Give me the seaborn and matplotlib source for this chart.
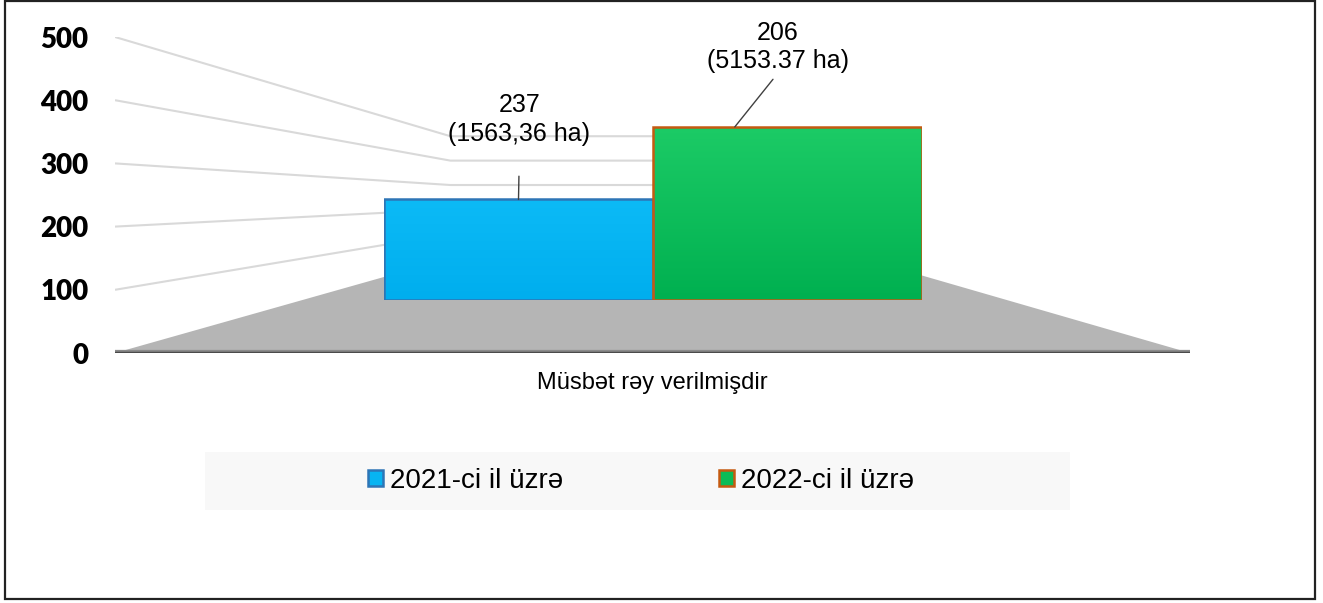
import numpy as np
import pandas as pd
import seaborn as sns
import matplotlib.pyplot as plt
from matplotlib.colors import LinearSegmentedColormap
from matplotlib.patches import Rectangle, Polygon

W, H = 1323, 603

category = "Müsbət rəy verilmişdir"
years = ["2021-ci il üzrə", "2022-ci il üzrə"]
counts = [237, 206]
areas = ["1563,36 ha", "5153.37 ha"]
# heights of the bars as they are drawn in the original (3-D) chart
bar_heights = [237, 408]
y_ticks = [0, 100, 200, 300, 400, 500]

fill_colors = ["#07b4f2", "#0bbb57"]
top_colors = ["#0cbaf6", "#1ccb66"]
bottom_colors = ["#00aeee", "#00b050"]
edge_colors = ["#2e75b6", "#c55a11"]

sns.set_style("white")
plt.rcParams["font.family"] = ["Liberation Sans", "DejaVu Sans"]
plt.rcParams["text.color"] = "black"


def fig_box(x0, y0, x1, y1):
    # pixel box measured from top-left -> figure fraction rect
    return [x0 / W, 1 - y1 / H, (x1 - x0) / W, (y1 - y0) / H]


fig = plt.figure(figsize=(W / 100, H / 100), dpi=100)

# background layer: outer frame and legend band
bg = fig.add_axes([0, 0, 1, 1], zorder=0)
bg.set_xlim(0, W)
bg.set_ylim(H, 0)
bg.axis("off")
bg.add_patch(Rectangle((5, 1), 1310, 598, fill=False, edgecolor="#222222", lw=1.6))
bg.add_patch(Rectangle((205, 452), 865, 58, facecolor="#f8f8f8", edgecolor="none"))

# value axis with the fake 3-D floor and walls
ax = fig.add_axes(fig_box(115, 37, 1190, 353), zorder=1)
ax.patch.set_visible(False)
ax.set_xlim(0, 1)
ax.set_ylim(0, 500)
for s in ax.spines.values():
    s.set_visible(False)

back_x = (0.312, 0.695)


def back_y(v):
    # where a value sits on the back wall (perspective shrink)
    return 150 + 0.386 * v


ax.add_patch(Polygon([(0, 0), (back_x[0], back_y(0)), (back_x[1], back_y(0)), (1, 0)],
                     closed=True, facecolor="#b5b5b5", edgecolor="none", zorder=1))
for v in y_ticks[1:]:
    ax.plot([0, back_x[0], back_x[1]], [v, back_y(v), back_y(v)],
            color="#d9d9d9", lw=1.5, zorder=0.5, solid_capstyle="butt")
ax.axhline(0, color="#8a8a8a", lw=4.5, zorder=2)
ax.axhline(0, color="#4a4a4a", lw=2.5, zorder=2)

ax.set_yticks(y_ticks)
ax.set_yticklabels([str(t) for t in y_ticks], fontweight="heavy", family=["Lato", "DejaVu Sans"])
ax.tick_params(axis="y", length=0, pad=19, labelsize=20, labelcolor="black")
ax.set_xticks([0.5], [category])
ax.tick_params(axis="x", length=0, pad=14, labelsize=17, labelcolor="black")
ax.grid(False)

# bars
df = pd.DataFrame({"category": [category] * 2, "year": years, "height": bar_heights})
bax = fig.add_axes(fig_box(384, 37, 922, 300), zorder=2)
sns.barplot(data=df, x="category", y="height", hue="year", palette=fill_colors,
            width=1, saturation=1, ax=bax)
bax.set_xlim(-0.5, 0.5)
bax.set_ylim(0, 620)
bax.axis("off")
grad = np.linspace(0, 1, 256).reshape(-1, 1)
for cont, ec, c_top, c_bot in zip(bax.containers, edge_colors, top_colors, bottom_colors):
    cmap = LinearSegmentedColormap.from_list("bar", [c_bot, c_top])
    for p in cont:
        p.set_edgecolor(ec)
        p.set_linewidth(1.8)
        x0, y0 = p.get_x(), p.get_y()
        im = bax.imshow(grad, cmap=cmap, origin="lower", aspect="auto",
                        extent=(x0, x0 + p.get_width(), y0, y0 + p.get_height()), zorder=p.get_zorder() - 0.1)
        im.set_clip_path(p)
        p.set_facecolor("none")
bax.set_xlim(-0.5, 0.5)
bax.set_ylim(0, 620)

handles, labels = bax.get_legend_handles_labels()
if bax.get_legend() is not None:
    bax.get_legend().remove()
for h, fc, ec in zip(handles, fill_colors, edge_colors):
    h.set_facecolor(fc)
    h.set_edgecolor(ec)
    h.set_linewidth(1.8)

# value labels with leader lines
label_pos = [(-0.25, (1, 80), 19.5), (0.152, (43, 80), 2.5)]
for (x, off, shrink), h, n, a in zip(label_pos, bar_heights, counts, areas):
    bax.annotate(f"{n}\n({a})", xy=(x, h), xytext=off, textcoords="offset pixels",
                 ha="center", va="center", fontsize=18, linespacing=1.25, color="black",
                 arrowprops=dict(arrowstyle="-", color="#404040", lw=1,
                                 relpos=(0.5, 0), shrinkA=shrink, shrinkB=0))

fig.legend(handles, labels, loc="center", bbox_to_anchor=(641 / W, 1 - 481 / H),
           ncol=2, frameon=False, fontsize=20, handlelength=0.54, handleheight=0.54,
           handletextpad=0.25, columnspacing=5.6, labelcolor="black")

fig.savefig("out.png", dpi=100)
